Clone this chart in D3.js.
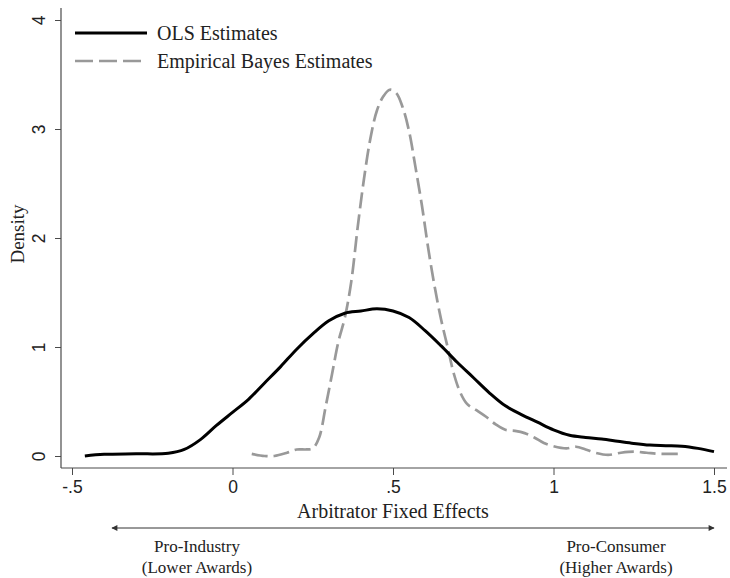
<!DOCTYPE html>
<html>
<head>
<meta charset="utf-8">
<script src="https://cdn.jsdelivr.net/npm/d3@7"></script>
<style>
  html, body { margin: 0; padding: 0; background: #fff; }
  svg { display: block; }
</style>
</head>
<body>
<svg id="chart" width="730" height="578"></svg>
<script>
// Kernel density of arbitrator fixed effects: OLS vs. Empirical Bayes
const olsX = [-0.46, -0.40, -0.30, -0.20, -0.15, -0.10, -0.05, 0.00, 0.05, 0.10, 0.15, 0.20, 0.25, 0.30, 0.35, 0.40, 0.45, 0.50, 0.55, 0.60, 0.65, 0.70, 0.75, 0.80, 0.85, 0.90, 0.95, 1.00, 1.05, 1.10, 1.15, 1.20, 1.25, 1.30, 1.35, 1.40, 1.45, 1.50];
const olsY = [0.00, 0.015, 0.02, 0.025, 0.06, 0.15, 0.28, 0.40, 0.52, 0.67, 0.82, 0.98, 1.12, 1.24, 1.31, 1.33, 1.35, 1.33, 1.27, 1.15, 1.01, 0.86, 0.72, 0.58, 0.46, 0.38, 0.31, 0.24, 0.19, 0.17, 0.155, 0.135, 0.115, 0.10, 0.095, 0.09, 0.07, 0.04];

const ebX = [0.06, 0.10, 0.13, 0.17, 0.20, 0.23, 0.25, 0.27, 0.29, 0.31, 0.33, 0.35, 0.37, 0.39, 0.41, 0.43, 0.45, 0.47, 0.49, 0.51, 0.53, 0.55, 0.57, 0.59, 0.61, 0.63, 0.65, 0.67, 0.69, 0.71, 0.73, 0.76, 0.79, 0.82, 0.85, 0.88, 0.91, 0.94, 0.97, 1.00, 1.04, 1.07, 1.10, 1.13, 1.17, 1.21, 1.25, 1.29, 1.33, 1.39];
const ebY = [0.02, 0.00, 0.00, 0.03, 0.06, 0.06, 0.07, 0.17, 0.45, 0.75, 1.05, 1.27, 1.60, 2.10, 2.55, 2.92, 3.17, 3.30, 3.36, 3.33, 3.20, 2.98, 2.65, 2.30, 1.90, 1.55, 1.25, 1.00, 0.75, 0.58, 0.48, 0.42, 0.36, 0.29, 0.24, 0.23, 0.21, 0.17, 0.12, 0.09, 0.07, 0.085, 0.06, 0.03, 0.01, 0.03, 0.04, 0.03, 0.02, 0.02];

const xTicks = [-0.5, 0, 0.5, 1, 1.5];
const xTickLabels = ["-.5", "0", ".5", "1", "1.5"];
const yTicks = [0, 1, 2, 3, 4];

const seriesNames = ["OLS Estimates", "Empirical Bayes Estimates"];
const xTitle = "Arbitrator Fixed Effects";
const yTitle = "Density";
const leftNote = ["Pro-Industry", "(Lower Awards)"];
const rightNote = ["Pro-Consumer", "(Higher Awards)"];

const serif = "'Liberation Serif', 'Times New Roman', serif";
const sans = "'Liberation Sans', Arial, sans-serif";
const inkAxis = "#4a4a4a";
const inkText = "#222";
const grayLine = "#999";

const svg = d3.select("#chart");

const x = d3.scaleLinear().domain([-0.5, 1.5]).range([72, 714]);
const y = d3.scaleLinear().domain([0, 4]).range([456, 20]);

// Plot frame lines (Stata-style axes)
const axisLeftX = 61, axisBottomY = 468;

const gx = svg.append("g").attr("transform", `translate(0,${axisBottomY})`)
  .call(d3.axisBottom(x).tickValues(xTicks)
    .tickFormat((d, i) => xTickLabels[i]).tickSize(7).tickSizeOuter(0).tickPadding(6));
gx.select(".domain").remove();
gx.selectAll("line").attr("stroke", inkAxis);
gx.selectAll("text").attr("font-family", sans).attr("font-size", 17.5).attr("fill", inkText);
svg.append("line").attr("x1", axisLeftX).attr("x2", 727)
  .attr("y1", axisBottomY).attr("y2", axisBottomY)
  .attr("stroke", inkAxis).attr("stroke-width", 1.2);

const gy = svg.append("g").attr("transform", `translate(${axisLeftX},0)`)
  .call(d3.axisLeft(y).tickValues(yTicks).tickFormat(d3.format("d")).tickSize(6).tickSizeOuter(0));
gy.select(".domain").remove();
gy.selectAll("line").attr("stroke", inkAxis);
gy.selectAll("text").remove();
gy.selectAll(".tick").append("text")
  .attr("transform", "translate(-16,0) rotate(-90)")
  .attr("text-anchor", "middle")
  .attr("font-family", sans).attr("font-size", 17.5).attr("fill", inkText)
  .text(d => d);
svg.append("line").attr("x1", axisLeftX).attr("x2", axisLeftX)
  .attr("y1", 8).attr("y2", axisBottomY)
  .attr("stroke", inkAxis).attr("stroke-width", 1.2);

// Density curves
const line = d3.line().x(d => x(d[0])).y(d => y(d[1])).curve(d3.curveCatmullRom.alpha(0.5));
const olsData = olsX.map((v, i) => [v, olsY[i]]);
const ebData = ebX.map((v, i) => [v, ebY[i]]);

svg.append("path").datum(ebData).attr("d", line)
  .attr("fill", "none").attr("stroke", grayLine).attr("stroke-width", 2.7)
  .attr("stroke-dasharray", "16,6");
svg.append("path").datum(olsData).attr("d", line)
  .attr("fill", "none").attr("stroke", "#000").attr("stroke-width", 3)
  .attr("stroke-linejoin", "round");

// Legend
const legend = svg.append("g");
[{ y: 33, stroke: "#000", dash: null, w: 3.2 }, { y: 61, stroke: grayLine, dash: "18,6", w: 2.7 }]
  .forEach((s, i) => {
    legend.append("line").attr("x1", 75).attr("x2", 147).attr("y1", s.y).attr("y2", s.y)
      .attr("stroke", s.stroke).attr("stroke-width", s.w)
      .attr("stroke-dasharray", s.dash);
    legend.append("text").attr("x", 157).attr("y", s.y + 7)
      .attr("font-family", serif).attr("font-size", 20).attr("fill", inkText)
      .text(seriesNames[i]);
  });

// Axis titles
svg.append("text").attr("x", 393).attr("y", 518).attr("text-anchor", "middle")
  .attr("font-family", serif).attr("font-size", 20).attr("fill", inkText).text(xTitle);
svg.append("text").attr("transform", `translate(24,${y(2) - 4}) rotate(-90)`)
  .attr("text-anchor", "middle")
  .attr("font-family", serif).attr("font-size", 19).attr("fill", inkText).text(yTitle);

// Direction arrow beneath the axis
const defs = svg.append("defs");
["start", "end"].forEach(k => {
  defs.append("marker").attr("id", "arrow-" + k)
    .attr("viewBox", "0 0 10 10").attr("refX", 9).attr("refY", 5)
    .attr("markerWidth", 8).attr("markerHeight", 6).attr("markerUnits", "userSpaceOnUse")
    .attr("orient", k === "start" ? "auto-start-reverse" : "auto")
    .append("path").attr("d", "M0,0 L10,5 L0,10 z").attr("fill", "#333");
});
svg.append("line").attr("x1", 112).attr("x2", 714).attr("y1", 528).attr("y2", 528)
  .attr("stroke", "#333").attr("stroke-width", 1)
  .attr("marker-start", "url(#arrow-start)").attr("marker-end", "url(#arrow-end)");

function note(lines, cx) {
  lines.forEach((t, i) => {
    svg.append("text").attr("x", cx).attr("y", 552 + i * 21).attr("text-anchor", "middle")
      .attr("font-family", serif).attr("font-size", 17).attr("fill", inkText).text(t);
  });
}
note(leftNote, 197);
note(rightNote, 616);
</script>
</body>
</html>
